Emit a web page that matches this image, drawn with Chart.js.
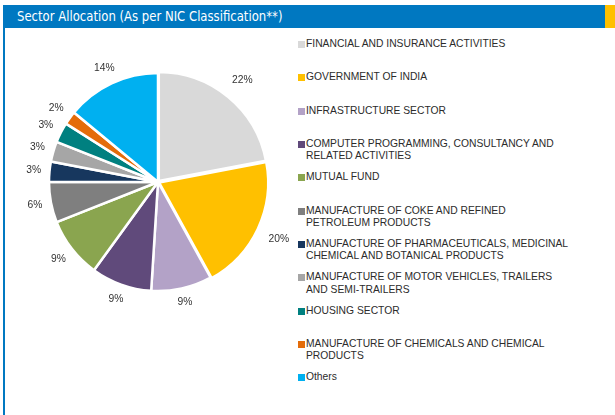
<!DOCTYPE html>
<html>
<head>
<meta charset="utf-8">
<script src="https://cdn.jsdelivr.net/npm/chart.js@4.4.1/dist/chart.umd.min.js"></script>
<style>
  body { margin: 0; width: 615px; height: 415px; background: #fff; position: relative; overflow: hidden; font-family: "Liberation Sans", Arial, sans-serif; }
  .header { position: absolute; left: 3px; top: 5px; width: 602px; height: 23px; background: #0078c1; }
  .header-tab { position: absolute; left: 605px; top: 5px; width: 10px; height: 23px; background: #ffc000; }
  .title { position: absolute; left: 17px; top: 6px; color: #fff; font-size: 14px; line-height: 20px; font-family: "DejaVu Sans Condensed", "Liberation Sans Narrow", "Liberation Sans", sans-serif; white-space: nowrap; transform: scaleX(0.927); transform-origin: left center; }
  .left-rule { position: absolute; left: 3px; top: 28px; width: 2px; height: 387px; background: #0078c1; }
  .pie-box { position: absolute; left: 18px; top: 42px; width: 280px; height: 280px; }
  .legend { position: absolute; left: 298px; top: 38px; }
  .legend-item { position: relative; height: 33.33px; }
  .legend-item .mark { position: absolute; left: 0; top: 3px; width: 7px; height: 7px; }
  .legend-item .txt { position: absolute; left: 8px; top: 0; font-size: 10.3px; line-height: 12.5px; color: #2b2b2b; white-space: nowrap; }
</style>
</head>
<body>
<div class="header"></div>
<div class="header-tab"></div>
<div class="title">Sector Allocation (As per NIC Classification**)</div>
<div class="left-rule"></div>
<div class="pie-box"><canvas id="pie"></canvas></div>
<div class="legend" id="legend"></div>

<script>
// sector names (legend lines as in the factsheet)
const sectors = [
    ['FINANCIAL AND INSURANCE ACTIVITIES'],
    ['GOVERNMENT OF INDIA'],
    ['INFRASTRUCTURE SECTOR'],
    ['COMPUTER PROGRAMMING, CONSULTANCY AND', 'RELATED ACTIVITIES'],
    ['MUTUAL FUND'],
    ['MANUFACTURE OF COKE AND REFINED', 'PETROLEUM PRODUCTS'],
    ['MANUFACTURE OF PHARMACEUTICALS, MEDICINAL', 'CHEMICAL AND BOTANICAL PRODUCTS'],
    ['MANUFACTURE OF MOTOR VEHICLES, TRAILERS', 'AND SEMI-TRAILERS'],
    ['HOUSING SECTOR'],
    ['MANUFACTURE OF CHEMICALS AND CHEMICAL', 'PRODUCTS'],
    ['Others']
];
const allocation = [22, 20, 9, 9, 9, 6, 3, 3, 3, 2, 14];
const sliceColors = ['#d9d9d9', '#ffc000', '#b3a2c7', '#604a7b', '#8aa54f', '#7f7f7f',
                     '#17375e', '#a6a6a6', '#008080', '#e46c0a', '#00b0f0'];
const sliceOffsets = [5, 5, 0, 0, 0, 0, 0, 0, 0, 0, 0];

// legend
document.getElementById('legend').innerHTML = sectors.map((lines, i) => `
    <div class="legend-item">
        <span class="mark" style="background:${sliceColors[i]}"></span>
        <span class="txt">${lines.join('<br>')}</span>
    </div>
`).join('');

// percentage labels outside the slices
const outsideLabels = {
    id: 'outsideLabels',
    afterDatasetsDraw(chart) {
        const ctx = chart.ctx;
        const meta = chart.getDatasetMeta(0);
        ctx.save();
        ctx.font = '10.3px "Liberation Sans", Arial, sans-serif';
        ctx.fillStyle = '#333';
        ctx.textAlign = 'center';
        ctx.textBaseline = 'middle';
        meta.data.forEach((arc, i) => {
            const p = arc.getProps(['x', 'y', 'startAngle', 'endAngle', 'outerRadius']);
            const mid = (p.startAngle + p.endAngle) / 2;
            const text = allocation[i] + '%';
            const w = ctx.measureText(text).width;
            const c = Math.cos(mid), s = Math.sin(mid);
            const ext = Math.abs(c) * w / 2 + Math.abs(s) * 5;
            const d = p.outerRadius + sliceOffsets[i] + 8 + ext;
            ctx.fillText(text, p.x + c * d, p.y + s * d);
        });
        ctx.restore();
    }
};

new Chart(document.getElementById('pie'), {
    type: 'pie',
    data: {
        labels: sectors.map(l => l.join(' ')),
        datasets: [{
            data: allocation,
            backgroundColor: sliceColors,
            borderColor: '#fff',
            borderWidth: 2.5,
            offset: sliceOffsets
        }]
    },
    options: {
        responsive: true,
        maintainAspectRatio: false,
        animation: false,
        radius: 109,
        layout: { padding: 0 },
        plugins: {
            legend: { display: false },
            tooltip: { enabled: false }
        }
    },
    plugins: [outsideLabels]
});
</script>
</body>
</html>
